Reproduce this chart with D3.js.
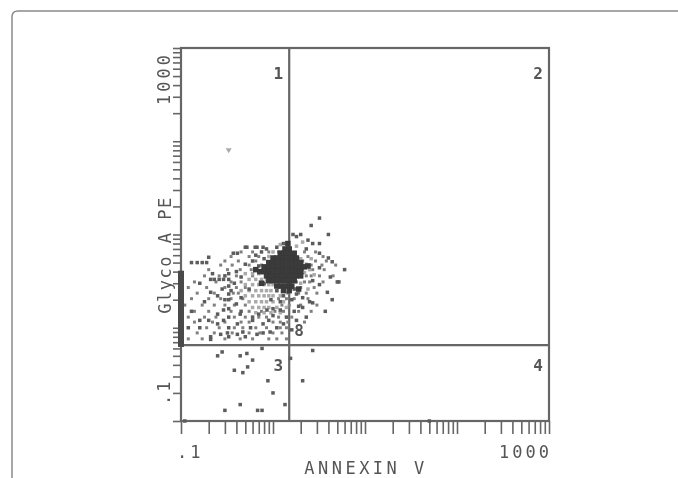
<!DOCTYPE html>
<html>
<head>
<meta charset="utf-8">
<script src="https://cdn.jsdelivr.net/npm/d3@7"></script>
<style>
  body { margin: 0; background: #fff; }
  text { font-family: "DejaVu Sans Mono", monospace; fill: #555; }
</style>
</head>
<body>
<script>
// axis ranges and tick labels
var xDomain = [0.1, 1000];
var yDomain = [0.1, 1000];
var xTickValues = [0.1, 1000];
var xTickLabels = [".1", "1000"];
var yTickValues = [0.1, 1000];
var yTickLabels = [".1", "1000"];
var xTitle = "ANNEXIN V";
var yTitle = "Glyco A PE";

// quadrant gates
var xGate = 1.5;
var yGate = 0.65;
var quadLabels = ["1", "2", "3", "4"];

// events, [annexin, glyco]
var denseCore = [
  [1.45,8],[1.35,7],[1.5,7],
  [1.2,6.3],[1.3,6.3],[1.4,6.3],[1.5,6.3],[1.7,6.3],
  [1.0,5.6],[1.1,5.6],[1.2,5.6],[1.3,5.6],[1.4,5.6],[1.5,5.6],[1.6,5.6],[1.8,5.6],
  [0.9,5],[1.0,5],[1.1,5],[1.2,5],[1.3,5],[1.4,5],[1.5,5],[1.6,5],[1.8,5],[2.0,5],
  [0.8,4.5],[0.9,4.5],[1.0,4.5],[1.1,4.5],[1.2,4.5],[1.3,4.5],[1.4,4.5],[1.5,4.5],[1.6,4.5],[1.8,4.5],[2.0,4.5],[2.2,4.5],
  [0.72,4],[0.8,4],[0.9,4],[1.0,4],[1.1,4],[1.2,4],[1.3,4],[1.4,4],[1.5,4],[1.6,4],[1.8,4],[2.0,4],
  [0.85,3.6],[0.95,3.6],[1.05,3.6],[1.15,3.6],[1.25,3.6],[1.35,3.6],[1.45,3.6],[1.6,3.6],[1.8,3.6],[2.0,3.6],
  [0.9,3.2],[1.0,3.2],[1.1,3.2],[1.2,3.2],[1.3,3.2],[1.4,3.2],[1.5,3.2],[1.7,3.2],
  [1.1,2.8],[1.2,2.8],[1.35,2.8],[1.5,2.8],[1.6,2.8],
  [1.3,2.5],[1.5,2.5],
  [0.65,4.2],[2.4,4.6],[0.75,3.0],[1.9,2.6]
];

var cloudDark = [
  [0.13,5],[0.15,5],[0.17,5],[0.19,5],
  [0.21,3.3],[0.23,3.3],[0.26,3.3],[0.29,3.3],
  [0.33,3.8],[0.33,3.3],[0.33,2.8],[0.33,2.3],[0.33,2.0],[0.33,1.6],[0.33,1.3],[0.33,1.0],[0.33,0.8],
  [0.18,1.9],[0.13,1.5],[0.12,1.0],[0.16,1.0],[0.21,0.75],[0.27,0.85],[0.41,0.85],[0.5,0.8],
  [0.41,6.3],[0.52,7.3],[0.67,7.3],[0.2,5.7],[0.16,3.0],[0.21,2.4],[0.25,1.4],[0.2,1.2],[0.16,1.2],
  [3.2,15],[2.6,12.5],[4.0,10],[2.0,10],[1.65,10],[2.7,8],[3.2,8],[1.3,8],[2.3,7],[3.2,6.3],
  [4.0,5.6],[6.0,4.2],[4.2,3.5],[5.0,3.1],[3.2,4.4],[2.7,3.2],[3.2,2.9],[3.9,2.4],[4.4,2.0],[2.5,1.9],
  [0.78,7.3],[0.64,7.3],[0.5,7.3],[0.37,6.3],[1.1,7.3],[1.8,9.5],
  [4.4,5.1],[5.2,3.1],[3.7,1.5],[2.7,1.85],[2.3,1.3],[1.8,1.2],[2.4,8.7],[2.1,2.1],[2.1,1.65],
  [0.21,0.8],[0.32,0.88],[0.41,1.1],[0.57,1.0],[0.67,0.85],[0.78,0.88],[0.93,0.9],[1.1,1.0],[1.3,1.1],
  [0.78,1.1],[1.0,1.35],[0.6,1.3],[0.44,1.4],[0.29,1.55],[0.25,1.1],[0.86,1.55],[1.2,1.55],[1.4,1.3],
  [1.6,0.95],[0.29,1.2],[0.47,0.9],
  [0.4,4.0],[0.45,3.5],[0.5,4.8],[0.6,5.2],[0.7,4.6],[0.8,5.5],[0.55,2.6],[0.45,2.1],[0.4,1.8],
  [0.35,2.5],[0.38,3.0],[0.3,2.0],[0.28,2.6],[0.3,3.6],[0.25,2.2],[0.22,3.8],[0.45,1.5],[0.6,1.2],
  [0.7,1.4],[0.9,1.2],[1.0,1.6],[1.2,1.9],[1.3,2.2],[1.1,2.5],[0.95,2.0],[1.7,2.6],[1.8,2.3],
  [1.6,2.0],[1.9,1.7],[1.7,1.5],[0.65,6.0],[0.75,6.5],[0.85,7.0],[0.9,3.4],[0.8,3.0]
];

var cloudMid = [
  [0.45,6.5],[0.6,6.5],[0.9,6.5],[1.15,6.5],[2.2,6.5],[2.9,6.5],
  [0.35,5.8],[0.55,5.8],[0.7,5.8],[2.4,5.8],[3.5,5.8],
  [0.3,5.2],[0.42,5.2],[0.65,5.2],[2.1,5.2],[2.9,5.2],[3.8,5.2],
  [0.27,4.7],[0.36,4.7],[0.55,4.7],[0.75,4.7],[2.6,4.7],[3.4,4.7],[4.8,4.7],
  [0.2,4.2],[0.32,4.2],[0.44,4.2],[0.58,4.2],[2.1,4.2],[2.7,4.2],[3.6,4.2],
  [0.18,3.6],[0.26,3.6],[0.4,3.6],[0.6,3.6],[2.3,3.6],[2.6,3.6],[3.2,3.6],[4.5,3.6],
  [0.14,3.1],[0.24,3.1],[0.35,3.1],[0.45,3.1],[1.8,3.1],[2.2,3.1],[2.5,3.1],[3.5,3.1],
  [0.12,2.7],[0.19,2.7],[0.3,2.7],[0.4,2.7],[0.5,2.7],[1.6,2.7],[2.0,2.7],[2.8,2.7],
  [0.15,2.35],[0.23,2.35],[0.37,2.35],[0.42,2.35],[1.45,2.35],[1.9,2.35],[2.3,2.35],[3.0,2.35],
  [0.13,2.05],[0.2,2.05],[0.27,2.05],[0.35,2.05],[0.47,2.05],[1.15,2.05],[1.4,2.05],[1.7,2.05],[2.4,2.05],
  [0.11,1.75],[0.17,1.75],[0.23,1.75],[0.3,1.75],[0.38,1.75],[0.5,1.75],[1.25,1.75],[1.5,1.75],[2.0,1.75],[3.0,1.75],
  [0.14,1.5],[0.2,1.5],[0.35,1.5],[0.55,1.5],[0.75,1.5],[1.05,1.5],[1.3,1.5],[1.9,1.5],[2.6,1.5],
  [0.12,1.3],[0.18,1.3],[0.24,1.3],[0.38,1.3],[0.5,1.3],[0.7,1.3],[0.85,1.3],[1.15,1.3],[1.6,1.3],
  [0.14,1.15],[0.22,1.15],[0.3,1.15],[0.45,1.15],[0.55,1.15],[1.0,1.15],[1.2,1.15],[1.45,1.15],[2.2,1.15],
  [0.19,1.0],[0.26,1.0],[0.38,1.0],[0.47,1.0],[0.65,1.0],[0.85,1.0],[1.2,1.0],[1.4,1.0],
  [0.15,0.88],[0.23,0.88],[0.36,0.88],[0.55,0.88],[0.72,0.88],[1.0,0.88],[1.25,0.88],
  [0.12,0.76],[0.17,0.76],[0.3,0.76],[0.44,0.76],[0.6,0.76],[0.9,0.76],[1.1,0.76],[1.4,0.76]
];

var cloudLight = [
  [0.5,3.8],[0.6,3.8],[0.7,3.8],
  [0.55,3.3],[0.65,3.3],[0.75,3.3],[0.85,3.3],
  [0.5,2.9],[0.6,2.9],[0.7,2.9],[0.8,2.9],[0.9,2.9],[1.0,2.9],
  [0.45,2.5],[0.55,2.5],[0.65,2.5],[0.75,2.5],[0.85,2.5],[0.95,2.5],[1.1,2.5],
  [0.5,2.2],[0.6,2.2],[0.7,2.2],[0.8,2.2],[0.9,2.2],[1.0,2.2],[1.2,2.2],
  [0.55,1.9],[0.65,1.9],[0.75,1.9],[0.85,1.9],[1.0,1.9],[1.3,1.9],
  [0.6,1.65],[0.7,1.65],[0.8,1.65],[0.9,1.65],[1.1,1.65],[1.4,1.65],
  [0.65,1.45],[0.8,1.45],[0.95,1.45],[1.2,1.45],
  [2.0,5.5],[2.3,4.8],[2.2,3.9],[2.5,4.2],[2.0,3.0],[2.4,2.6],[2.8,3.7],[2.6,5.5],
  [1.8,7.5],[2.1,8.3],[1.2,7.8],[1.0,6.5],[0.9,5.8]
];

// events piled up on the annexin axis
var axisPile = [
  [0.1,3.8],[0.1,3.5],[0.1,3.2],[0.1,3.0],[0.1,2.8],[0.1,2.6],[0.1,2.4],[0.1,2.2],[0.1,2.0],
  [0.1,1.85],[0.1,1.7],[0.1,1.55],[0.1,1.42],[0.1,1.3],[0.1,1.2],[0.1,1.1],[0.1,1.0],[0.1,0.92],
  [0.1,0.85],[0.1,0.78],[0.1,0.72],[0.1,0.67]
];

var lowerEvents = [
  [0.28,0.55],[0.25,0.5],[0.44,0.5],[0.6,0.45],[0.76,0.6],[0.53,0.38],[0.47,0.33],[0.38,0.35],
  [0.52,0.53],[2.7,0.57],[1.55,0.47],[0.88,0.27],[2.1,0.27],[1.0,0.2],[1.35,0.15],[0.76,0.13],
  [0.44,0.15],[0.3,0.13],[0.68,0.13],[50,0.1],[0.11,0.1]
];

var stray = [[0.33, 80]];

var w = 678, h = 478;

var svg = d3.select("body").append("svg")
  .attr("width", w)
  .attr("height", h);

// soft look of the scanned plot
svg.append("defs").append("filter")
  .attr("id", "soft")
  .append("feGaussianBlur")
  .attr("stdDeviation", 0.6);

// card outline
svg.append("path")
  .attr("d", "M12," + h + " V17 Q12,11 18,11 H" + w)
  .attr("fill", "none")
  .attr("stroke", "#8a8a8a")
  .attr("stroke-width", 1.5);

var g = svg.append("g").attr("filter", "url(#soft)");

var x = d3.scaleLog().domain(xDomain).range([181, 549]);
var y = d3.scaleLog().domain(yDomain).range([421, 48]);

// every 1..9 tick of each decade
var minor = [];
for (var e = -1; e < 3; e++) {
  for (var m = 1; m < 10; m++) minor.push(m * Math.pow(10, e));
}
minor.push(1000);

var lineCol = "#666";

var xAxis = d3.axisBottom(x).tickValues(minor)
  .tickSize(13).tickFormat("");
var gx = g.append("g")
  .attr("transform", "translate(0," + y(0.1) + ")")
  .call(xAxis);
gx.select(".domain").remove();
gx.selectAll("line").attr("stroke", lineCol).attr("stroke-width", 1.6);

var yAxis = d3.axisLeft(y).tickValues(minor)
  .tickSize(8).tickFormat("");
var gy = g.append("g")
  .attr("transform", "translate(" + x(0.1) + ",0)")
  .call(yAxis);
gy.select(".domain").remove();
gy.selectAll("line").attr("stroke", lineCol).attr("stroke-width", 1.6);

// frame and gates
g.append("rect")
  .attr("x", x(0.1)).attr("y", y(1000))
  .attr("width", x(1000) - x(0.1)).attr("height", y(0.1) - y(1000))
  .attr("fill", "none").attr("stroke", lineCol).attr("stroke-width", 2.2);

g.append("line")
  .attr("x1", x(xGate)).attr("x2", x(xGate))
  .attr("y1", y(1000)).attr("y2", y(0.1))
  .attr("stroke", lineCol).attr("stroke-width", 2.2);
g.append("line")
  .attr("x1", x(0.1)).attr("x2", x(1000))
  .attr("y1", y(yGate)).attr("y2", y(yGate))
  .attr("stroke", lineCol).attr("stroke-width", 2.2);

function dots(data, col, size) {
  g.append("g").selectAll("rect")
    .data(data)
    .enter()
    .append("rect")
    .attr("x", function(d) { return x(d[0]) - size / 2; })
    .attr("y", function(d) { return y(d[1]) - size / 2; })
    .attr("width", size)
    .attr("height", size)
    .attr("fill", col);
}

dots(cloudMid, "#808080", 3);
dots(cloudLight, "#aaa", 3.5);
dots(cloudDark, "#5c5c5c", 3.5);
dots(lowerEvents, "#5c5c5c", 3.5);
dots(denseCore, "#3a3a3a", 5.5);
dots(axisPile, "#4a4a4a", 6);

// stray event marker
g.selectAll(".stray")
  .data(stray)
  .enter()
  .append("path")
  .attr("class", "stray")
  .attr("d", function(d) {
    var cx = x(d[0]), cy = y(d[1]);
    return "M" + (cx - 3) + "," + (cy - 2) + "H" + (cx + 3) + "L" + cx + "," + (cy + 3) + "Z";
  })
  .attr("fill", "#aaa");

// quadrant numbers
var qPos = [[x(xGate) - 6, y(1000) + 31], [x(1000) - 6, y(1000) + 31],
            [x(xGate) - 6, y(yGate) + 26], [x(1000) - 6, y(yGate) + 26]];
g.selectAll(".q")
  .data(quadLabels)
  .enter()
  .append("text")
  .attr("class", "q")
  .attr("x", function(d, i) { return qPos[i][0]; })
  .attr("y", function(d, i) { return qPos[i][1]; })
  .attr("text-anchor", "end")
  .attr("font-size", 16)
  .attr("font-weight", "bold")
  .text(function(d) { return d; });

g.append("text")
  .attr("x", x(xGate) + 5).attr("y", y(yGate) - 9)
  .attr("font-size", 16)
  .attr("font-weight", "bold")
  .text("8");

// tick labels
g.selectAll(".xl")
  .data(xTickValues)
  .enter()
  .append("text")
  .attr("class", "xl")
  .attr("x", function(d, i) { return i === 0 ? x(d) - 4 : x(d) + 3; })
  .attr("y", 458)
  .attr("text-anchor", function(d, i) { return i === 0 ? "start" : "end"; })
  .attr("font-size", 17)
  .attr("letter-spacing", 3)
  .text(function(d, i) { return xTickLabels[i]; });

g.selectAll(".yl")
  .data(yTickValues)
  .enter()
  .append("text")
  .attr("class", "yl")
  .attr("transform", function(d, i) {
    var py = i === 0 ? y(d) - 16 : y(d) + 4;
    return "translate(170," + py + ") rotate(-90)";
  })
  .attr("text-anchor", function(d, i) { return i === 0 ? "start" : "end"; })
  .attr("font-size", 17)
  .attr("letter-spacing", 3)
  .text(function(d, i) { return yTickLabels[i]; });

// axis titles
g.append("text")
  .attr("x", 366).attr("y", 474)
  .attr("text-anchor", "middle")
  .attr("font-size", 17)
  .attr("letter-spacing", 3.5)
  .text(xTitle);

g.append("text")
  .attr("transform", "translate(171,255) rotate(-90)")
  .attr("text-anchor", "middle")
  .attr("font-size", 17)
  .attr("letter-spacing", 1.5)
  .text(yTitle);
</script>
</body>
</html>
